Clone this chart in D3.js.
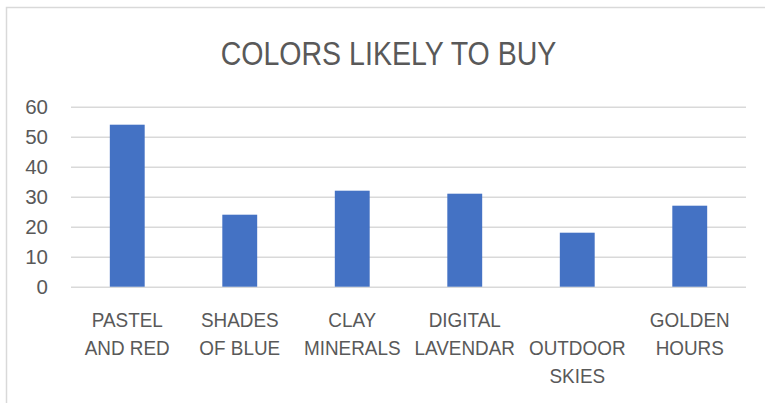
<!DOCTYPE html>
<html>
<head>
<meta charset="utf-8">
<script src="https://cdn.jsdelivr.net/npm/d3@7"></script>
<style>
  html, body { margin: 0; padding: 0; background: #ffffff; }
  svg { display: block; }
</style>
</head>
<body>
<svg id="chart" width="765" height="403"></svg>
<script>
// Chart data
const title = "COLORS LIKELY TO BUY";
const categories = [
  "PASTEL\nAND RED",
  "SHADES\nOF BLUE",
  "CLAY\nMINERALS",
  "DIGITAL\nLAVENDAR",
  "\nOUTDOOR\nSKIES",
  "GOLDEN\nHOURS"
];
const values = [54, 24, 32, 31, 18, 27];
const yTicks = [0, 10, 20, 30, 40, 50, 60];

const W = 765, H = 403;
const plot = { left: 71, right: 746, top: 106.7, bottom: 286.7 };
const textColor = "#595959";
const gridColor = "#d9d9d9";
const barColor = "#4472c4";
const textFont = "'Liberation Sans', Arial, sans-serif";
const titleSqueeze = 0.84; // horizontal squeeze for a condensed look
const labelSqueeze = 0.9;

const svg = d3.select("#chart");

// Chart area frame
svg.append("rect")
  .attr("x", 6.5).attr("y", 7.5)
  .attr("width", W + 20).attr("height", H + 20)
  .attr("fill", "#ffffff")
  .attr("stroke", gridColor)
  .attr("stroke-width", 1.5);

const x = d3.scaleBand()
  .domain(categories)
  .range([plot.left, plot.right])
  .padding(0);

const y = d3.scaleLinear()
  .domain([0, 60])
  .range([plot.bottom, plot.top]);

// Title
svg.append("text")
  .attr("transform", `translate(388.5,65) scale(${titleSqueeze},1)`)
  .attr("text-anchor", "middle")
  .attr("fill", textColor)
  .style("font-family", textFont)
  .style("font-size", "34px")
  .text(title);

// Y axis: gridlines and tick labels
const yAxis = d3.axisLeft(y)
  .tickValues(yTicks)
  .tickSize(-(plot.right - plot.left))
  .tickPadding(23)
  .tickFormat(d3.format("d"));

const gy = svg.append("g")
  .attr("transform", `translate(${plot.left},0)`)
  .call(yAxis);
gy.select(".domain").remove();
gy.selectAll(".tick line")
  .attr("stroke", gridColor)
  .attr("stroke-width", 1.5);
gy.selectAll(".tick text")
  .attr("fill", textColor)
  .style("font-family", textFont)
  .style("font-size", "20.5px");

// Bars
const barW = x.bandwidth() * 0.31;
svg.append("g")
  .selectAll("rect")
  .data(values)
  .join("rect")
  .attr("x", (d, i) => x(categories[i]) + (x.bandwidth() - barW) / 2)
  .attr("y", d => y(d))
  .attr("width", barW)
  .attr("height", d => y(0) - y(d))
  .attr("fill", barColor);

// Category labels (multi-line)
const lineH = 28;
const gx = svg.append("g");
categories.forEach(c => {
  const t = gx.append("text")
    .attr("transform", `translate(${x(c) + x.bandwidth() / 2},327) scale(${labelSqueeze},1)`)
    .attr("text-anchor", "middle")
    .attr("fill", textColor)
    .style("font-family", textFont)
    .style("font-size", "21px");
  c.split("\n").forEach((line, j) => {
    t.append("tspan")
      .attr("x", 0)
      .attr("y", j * lineH)
      .text(line);
  });
});
</script>
</body>
</html>
